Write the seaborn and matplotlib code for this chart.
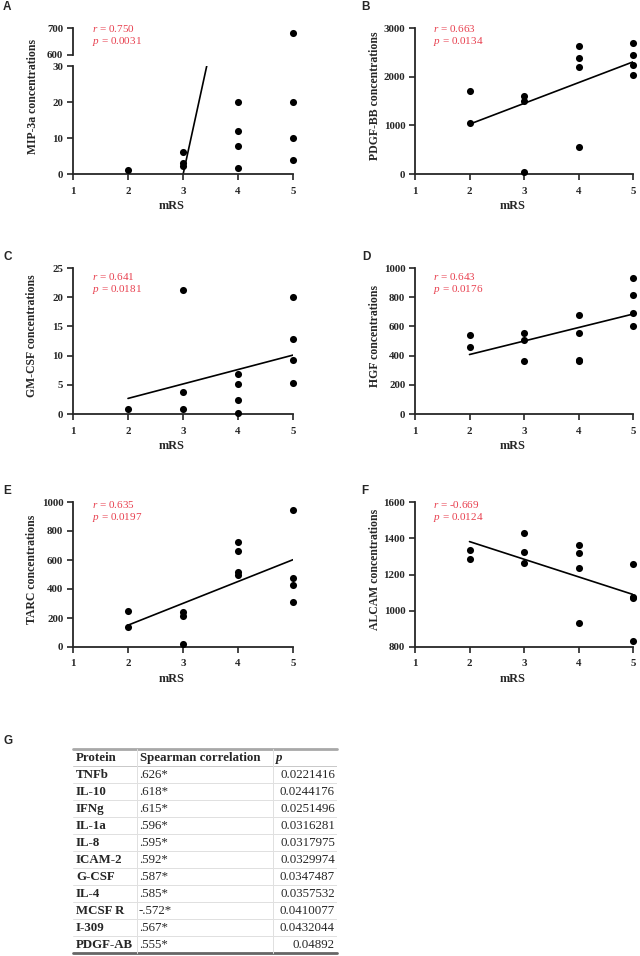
import numpy as np
import matplotlib
matplotlib.use("Agg")
import matplotlib.pyplot as plt
import seaborn as sns

# Datos
mrs_a = [2, 3, 3, 3, 4, 4, 4, 4, 5, 5, 5, 5]
mip3a = [1, 6, 3, 2.3, 20, 12, 7.7, 1.8, 680, 20, 10, 3.8]

mrs_b = [2, 2, 3, 3, 3, 4, 4, 4, 4, 5, 5, 5, 5]
pdgfbb = [1710, 1050, 1600, 1500, 50, 2630, 2380, 2200, 560, 2700, 2450, 2250, 2040]

mrs_c = [2, 3, 3, 3, 4, 4, 4, 4, 5, 5, 5, 5]
gmcsf = [0.9, 21.3, 3.8, 0.9, 6.9, 5.2, 2.4, 0.1, 20, 12.9, 9.2, 5.3]

mrs_d = [2, 2, 3, 3, 3, 4, 4, 4, 4, 5, 5, 5, 5]
hgf = [540, 460, 555, 510, 360, 675, 555, 370, 360, 930, 815, 690, 600]

mrs_e = [2, 2, 3, 3, 3, 4, 4, 4, 4, 5, 5, 5, 5]
tarc = [250, 140, 240, 212, 20, 725, 663, 514, 500, 945, 475, 425, 310]

mrs_f = [2, 2, 3, 3, 3, 4, 4, 4, 4, 5, 5, 5, 5]
alcam = [1334, 1284, 1429, 1325, 1266, 1361, 1316, 1238, 935, 1258, 1075, 1068, 835]

r_vals = ["0.750", "0.663", "0.641", "0.643", "0.635", "-0.669"]
p_vals = ["0.0031", "0.0134", "0.0181", "0.0176", "0.0197", "0.0124"]

# Tabla G
proteins = ["TNFb", "IL-10", "IFNg", "IL-1a", "IL-8", "ICAM-2", "G-CSF",
            "IL-4", "MCSF R", "I-309", "PDGF-AB"]
spearman = [".626*", ".618*", ".615*", ".596*", ".595*", ".592*", ".587*",
            ".585*", "-.572*", ".567*", ".555*"]
p_table = ["0.0221416", "0.0244176", "0.0251496", "0.0316281", "0.0317975",
           "0.0329974", "0.0347487", "0.0357532", "0.0410077", "0.0432044",
           "0.04892"]

sns.set_style("ticks")
plt.rcParams["font.family"] = ["Liberation Serif", "DejaVu Serif"]
plt.rcParams["mathtext.fontset"] = "custom"
plt.rcParams["mathtext.it"] = "Liberation Serif:italic"
plt.rcParams["mathtext.rm"] = "Liberation Serif"

W, H = 640, 956
RED = "#e8404f"
fig = plt.figure(figsize=(W / 100, H / 100), dpi=100)


def add_ax(left, top, right, bottom):
    """Crear ejes a partir de coordenadas en pixeles."""
    return fig.add_axes([left / W, 1 - bottom / H, (right - left) / W, (bottom - top) / H])


def estilo(ax, yticks, ylim, xaxis=True):
    ax.set_xlim(1, 5)
    ax.set_ylim(*ylim)
    ax.set_yticks(yticks)
    sns.despine(ax=ax)
    for s in ["left", "bottom"]:
        ax.spines[s].set_linewidth(1.3)
    ax.tick_params(direction="out", length=4, width=1.2, labelsize=7.8, pad=3)
    ax.tick_params(axis="x", pad=5)
    if xaxis:
        ax.set_xticks([1, 2, 3, 4, 5])
    else:
        ax.spines["bottom"].set_visible(False)
        ax.set_xticks([])
    for lab in ax.get_xticklabels() + ax.get_yticklabels():
        lab.set_fontweight("bold")


def panel(ax, x, y, ylabel, yticks, ylim, mask=None):
    x = np.array(x)
    y = np.array(y)
    sns.regplot(x=x, y=y, ax=ax, scatter=False, ci=None, truncate=True,
                color="black", line_kws={"lw": 1.2})
    if mask is None:
        mask = np.ones(len(x), dtype=bool)
    sns.scatterplot(x=x[mask], y=y[mask], ax=ax, color="black", s=26,
                    linewidth=0, clip_on=False, legend=False, zorder=5)
    estilo(ax, yticks, ylim)
    ax.set_xlabel("mRS", fontsize=8.8, fontweight="bold")
    ax.set_ylabel(ylabel, fontsize=8.5, fontweight="bold")
    ax.xaxis.set_label_coords(0.45, -0.18)
    ax.yaxis.set_label_coords(-0.158, 0.535)


def anotar(xp, yp, r, p):
    fig.text(xp / W, 1 - yp / H, "$r$ = " + r, color=RED, fontsize=8, va="center")
    fig.text(xp / W, 1 - (yp + 13) / H, "$p$ = " + p, color=RED, fontsize=8, va="center")


def letra(xp, yp, t):
    fig.text(xp / W, 1 - yp / H, t, fontsize=8.5, fontweight="bold",
             family="Liberation Sans", va="center")


# Panel A con eje roto
ax_a = add_ax(73, 66, 293, 174)
ax_a_top = add_ax(73, 28, 293, 55)
arr_a = np.array(mip3a)
panel(ax_a, mrs_a, mip3a, "MIP-3a concentrations", [0, 10, 20, 30], (0, 30), mask=arr_a <= 30)
ax_a.xaxis.set_label_coords(0.45, -0.24)
ax_a.yaxis.set_label_coords(-0.155, 0.718)
top_mask = arr_a >= 600
sns.scatterplot(x=np.array(mrs_a)[top_mask], y=arr_a[top_mask], ax=ax_a_top,
                color="black", s=26, linewidth=0, clip_on=False, legend=False)
estilo(ax_a_top, [600, 700], (600, 700), xaxis=False)
ax_a_top.set_xlabel("")
ax_a_top.set_ylabel("")

# Paneles B - F
ax_b = add_ax(415, 28, 633, 174)
panel(ax_b, mrs_b, pdgfbb, "PDGF-BB concentrations", [0, 1000, 2000, 3000], (0, 3000))
ax_c = add_ax(73, 268, 293, 414)
panel(ax_c, mrs_c, gmcsf, "GM-CSF concentrations", [0, 5, 10, 15, 20, 25], (0, 25))
ax_d = add_ax(415, 268, 633, 414)
panel(ax_d, mrs_d, hgf, "HGF concentrations", [0, 200, 400, 600, 800, 1000], (0, 1000))
ax_e = add_ax(73, 502, 293, 647)
panel(ax_e, mrs_e, tarc, "TARC concentrations", [0, 200, 400, 600, 800, 1000], (0, 1000))
ax_f = add_ax(415, 502, 633, 647)
panel(ax_f, mrs_f, alcam, "ALCAM concentrations", [800, 1000, 1200, 1400, 1600], (800, 1600))

# Anotaciones r / p
pos_txt = [(92, 28), (433, 28), (92, 276), (433, 276), (92, 504), (433, 504)]
for (xp, yp), r, p in zip(pos_txt, r_vals, p_vals):
    anotar(xp, yp, r, p)

for (xp, yp), t in zip([(3, 7), (361, 7), (3, 257), (362, 257), (3, 491), (361, 491), (3, 741)],
                       "ABCDEFG"):
    letra(xp, yp, t)

# Tabla G
ax_t = add_ax(73, 749, 337, 954)
ax_t.set_xlim(73, 337)
ax_t.set_ylim(954, 749)
ax_t.axis("off")
row_h = 17
top = 749
col1, col2 = 137, 273
ax_t.plot([73, 337], [top, top], color="#a8a8a8", lw=2, clip_on=False)
ax_t.plot([73, 337], [top + 12 * row_h, top + 12 * row_h], color="#666666", lw=2, clip_on=False)
for i in range(1, 12):
    yl = top + i * row_h
    ax_t.plot([73, 337], [yl, yl], color="#c8c8c8" if i == 1 else "#e0e0e0", lw=0.7)
for xv in [col1, col2, 337]:
    ax_t.plot([xv, xv], [top, top + 12 * row_h], color="#e0e0e0", lw=0.7)

fs = 9.3
yc = top + row_h / 2
ax_t.text(76, yc, "Protein", fontsize=fs, fontweight="bold", va="center")
ax_t.text(140, yc, "Spearman correlation", fontsize=fs, fontweight="bold", va="center")
ax_t.text(276, yc, "p", fontsize=fs, fontweight="bold", fontstyle="italic", va="center")
for i, (pr, sp, pv) in enumerate(zip(proteins, spearman, p_table)):
    yc = top + (i + 1.5) * row_h
    ax_t.text(76, yc, pr, fontsize=fs, fontweight="bold", va="center")
    ax_t.text(139, yc, sp, fontsize=fs, va="center")
    ax_t.text(335, yc, pv, fontsize=fs, va="center", ha="right")

fig.savefig("out.png", dpi=100)
